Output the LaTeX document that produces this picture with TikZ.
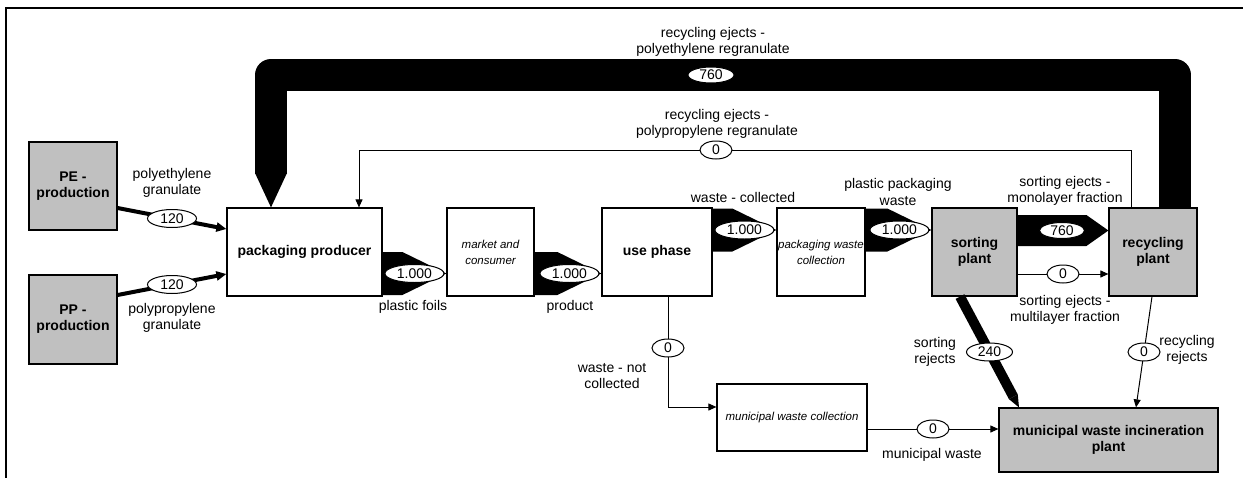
\documentclass[tikz,border=0pt]{standalone}
\usepackage{fontspec}
\setmainfont{Liberation Sans}
\usetikzlibrary{arrows.meta, positioning, shapes.geometric, calc}
\definecolor{plantgray}{RGB}{192,192,192}

\begin{document}
\begin{tikzpicture}[x=1pt, y=-1pt,
    procbox/.style={rectangle, draw=black, line width=1.2pt, fill=white, align=center, inner sep=1pt},
    plantbox/.style={procbox, fill=plantgray, font=\fontsize{14}{16}\selectfont\bfseries},
    boldtext/.style={font=\fontsize{14}{16}\selectfont\bfseries},
    softtext/.style={font=\fontsize{11.5}{16}\selectfont\itshape},
    amount/.style={ellipse, draw=black, line width=1pt, fill=white, inner sep=0pt, minimum height=18, minimum width=#1, font=\fontsize{14}{16}\selectfont},
    amount/.default=32,
    flowtext/.style={align=center, font=\fontsize{14}{16.5}\selectfont},
    thinflow/.style={line width=1pt, -{Triangle[length=8pt, width=7pt]}},
    granflow/.style={line width=4pt, -{Triangle[length=10pt, width=9pt]}},
    bigflow/.style={line width=32pt, line join=round}
]
\useasboundingbox (0,0) rectangle (1243,477);

% Frame
\draw[line width=1.5pt] (6,500) -- (6,8) -- (1260,8);

% Processes
\node[plantbox, minimum width=88, minimum height=88] (pe) at (73,186) {PE -\\production};
\node[plantbox, minimum width=88, minimum height=89] (pp) at (73,319.5) {PP -\\production};
\node[procbox, boldtext, minimum width=155, minimum height=88] (prod) at (304.5,252) {packaging producer};
\node[procbox, softtext, minimum width=87, minimum height=88] (market) at (490.5,252) {market and\\consumer};
\node[procbox, boldtext, minimum width=110, minimum height=88] (use) at (657,252) {use phase};
\node[procbox, softtext, minimum width=88, minimum height=88] (pwc) at (821,252) {packaging waste\\collection};
\node[plantbox, minimum width=85, minimum height=88] (sort) at (974.5,252) {sorting\\plant};
\node[plantbox, minimum width=88, minimum height=88] (recyc) at (1153,252) {recycling\\plant};
\node[procbox, softtext, minimum width=150, minimum height=67] (mwc) at (792,417.5) {municipal waste collection};
\node[plantbox, minimum width=219, minimum height=64] (inc) at (1108.5,440) {municipal waste incineration\\plant};

% Granulate input
\draw[granflow] (pe.east |- 0,208) -- node[amount=49] (a1) {120} (prod.west |- 0,229);
\draw[granflow] (pp.east |- 0,295) -- node[amount=49] (a2) {120} (prod.west |- 0,274);

% Regranulate back to producer
\draw[bigflow] (1175,0 |- recyc.north) |- (271,75) -- (271,174);
\fill (255,173) -- (287,173) -- (271,0 |- prod.north) -- cycle;
\node[amount=46, minimum height=16] (a3) at (711,75) {760};
\draw[thinflow] (1131,0 |- recyc.north) |- (359,150) -- (359,0 |- prod.north);
\node[amount] (a4) at (716,150) {0};

% Main chain
\foreach \src/\dst/\y in {prod/market/273.5, market/use/273.5, use/pwc/230, pwc/sort/230} {
  \fill ($(\src.east |- 0,\y)+(0,-21.5)$) -- ($(\dst.west |- 0,\y)+(-44,-21.5)$) -- (\dst.west |- 0,\y)
    -- ($(\dst.west |- 0,\y)+(-44,21.5)$) -- ($(\src.east |- 0,\y)+(0,21.5)$) -- cycle;
  \node[amount=59, anchor=east, xshift=-2pt] (w\dst) at (\dst.west |- 0,\y) {1.000};
}

% Sorting to recycling
\fill ($(sort.east |- 0,230.5)+(0,-15.5)$) -- ($(recyc.west |- 0,230.5)+(-22,-15.5)$) -- (recyc.west |- 0,230.5)
  -- ($(recyc.west |- 0,230.5)+(-22,15.5)$) -- ($(sort.east |- 0,230.5)+(0,15.5)$) -- cycle;
\node[amount=45, minimum height=16] (a5) at (1062,230.5) {760};
\draw[thinflow] (sort.east |- 0,274) -- node[amount] (a6) {0} (recyc.west |- 0,274);

% Rejects to incineration
\coordinate (rejstart) at (960,0 |- sort.south);
\coordinate (rejend) at (1019,0 |- inc.north);
\coordinate (rejneck) at ($(rejend)!12pt!(rejstart)$);
\draw[line width=10pt] (rejstart) -- (rejneck);
\fill ($(rejneck)!5pt!90:(rejend)$) -- (rejend) -- ($(rejneck)!5pt!-90:(rejend)$) -- cycle;
\node[amount=46] (a7) at ($(rejstart)!0.5!(rejend)$) {240};
\draw[thinflow] (1152,0 |- recyc.south) -- node[amount] (a8) {0} (1136,0 |- inc.north);

% Municipal waste
\draw[thinflow] (668,0 |- use.south) |- (mwc.west |- 0,407);
\node[amount] (a9) at (668,348) {0};
\draw[thinflow] (mwc.east |- 0,429) -- node[amount] (a10) {0} (inc.west |- 0,429);

% Flow names
\node[flowtext] (t1) at (172,183) {polyethylene\\granulate};
\node[flowtext] (t2) at (172,318) {polypropylene\\granulate};
\node[flowtext] (t3) at (713,42) {recycling ejects -\\polyethylene regranulate};
\node[flowtext] (t4) at (717,124) {recycling ejects -\\polypropylene regranulate};
\node[flowtext] (t5) at (413,307) {plastic foils};
\node[flowtext] (t6) at (570,307) {product};
\node[flowtext] (t7) at (743,197) {waste - collected};
\node[flowtext] (t8) at (898,192) {plastic packaging\\waste};
\node[flowtext] (t9) at (1065,191) {sorting ejects -\\monolayer fraction};
\node[flowtext] (t10) at (1065,310) {sorting ejects -\\multilayer fraction};
\node[flowtext] (t11) at (612,376) {waste - not\\collected};
\node[flowtext] (t12) at (935,352) {sorting\\rejects};
\node[flowtext] (t13) at (1187,350) {recycling\\rejects};
\node[flowtext] (t14) at (932,455) {municipal waste};

\end{tikzpicture}
\end{document}
